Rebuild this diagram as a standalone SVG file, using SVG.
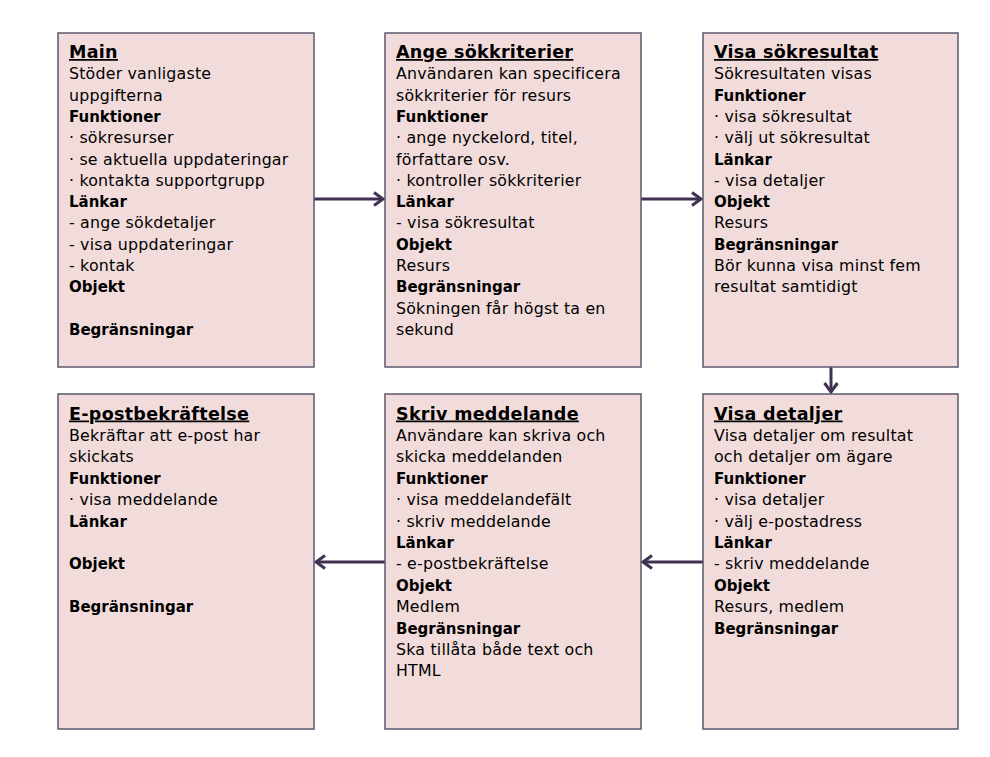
<svg xmlns="http://www.w3.org/2000/svg" width="990" height="757" viewBox="0 0 990 757">
<style>
.box{fill:#f2dcdb;stroke:#5e566f;stroke-width:1.5}
text{font-family:"DejaVu Sans","Noto Sans",sans-serif;font-size:15.8px;letter-spacing:0.2px;fill:#000}
.t{font-size:17.5px;letter-spacing:0.3px;font-weight:bold;text-decoration:underline}
.h{font-weight:bold;font-size:15px;letter-spacing:0}
.c{fill:none;stroke:#403152;stroke-width:3}
</style>
<defs>
<marker id="ah" markerUnits="userSpaceOnUse" markerWidth="16" markerHeight="16" viewBox="-12 -8 16 16" refX="0" refY="0" orient="auto">
<path d="M-9,-6.5 L0,0 L-9,6.5" fill="none" stroke="#403152" stroke-width="3"/>
</marker>
</defs>
<rect width="990" height="757" fill="#fff"/>
<g id="connectors">
<line class="c" x1="314" y1="199" x2="383" y2="199" marker-end="url(#ah)"/>
<line class="c" x1="641" y1="199" x2="701" y2="199" marker-end="url(#ah)"/>
<line class="c" x1="831" y1="367" x2="831" y2="392" marker-end="url(#ah)"/>
<line class="c" x1="703" y1="562" x2="643" y2="562" marker-end="url(#ah)"/>
<line class="c" x1="385" y1="562" x2="316" y2="562" marker-end="url(#ah)"/>
</g>
<g id="main">
<rect class="box" x="58" y="33" width="256" height="334"/>
<text x="69" y="58" class="t">Main</text>
<text x="69" y="79.3">Stöder vanligaste</text>
<text x="69" y="100.6">uppgifterna</text>
<text x="69" y="121.9" class="h">Funktioner</text>
<text x="69" y="143.2">· sökresurser</text>
<text x="69" y="164.5">· se aktuella uppdateringar</text>
<text x="69" y="185.8">· kontakta supportgrupp</text>
<text x="69" y="207.1" class="h">Länkar</text>
<text x="69" y="228.4">- ange sökdetaljer</text>
<text x="69" y="249.7">- visa uppdateringar</text>
<text x="69" y="271">- kontak</text>
<text x="69" y="292.3" class="h">Objekt</text>
<text x="69" y="334.9" class="h">Begränsningar</text>
</g>
<g id="ange-sokkriterier">
<rect class="box" x="385" y="33" width="256" height="334"/>
<text x="396" y="58" class="t">Ange sökkriterier</text>
<text x="396" y="79.3">Användaren kan specificera</text>
<text x="396" y="100.6">sökkriterier för resurs</text>
<text x="396" y="121.9" class="h">Funktioner</text>
<text x="396" y="143.2">· ange nyckelord, titel,</text>
<text x="396" y="164.5">författare osv.</text>
<text x="396" y="185.8">· kontroller sökkriterier</text>
<text x="396" y="207.1" class="h">Länkar</text>
<text x="396" y="228.4">- visa sökresultat</text>
<text x="396" y="249.7" class="h">Objekt</text>
<text x="396" y="271">Resurs</text>
<text x="396" y="292.3" class="h">Begränsningar</text>
<text x="396" y="313.6">Sökningen får högst ta en</text>
<text x="396" y="334.9">sekund</text>
</g>
<g id="visa-sokresultat">
<rect class="box" x="703" y="33" width="255" height="334"/>
<text x="714" y="58" class="t">Visa sökresultat</text>
<text x="714" y="79.3">Sökresultaten visas</text>
<text x="714" y="100.6" class="h">Funktioner</text>
<text x="714" y="121.9">· visa sökresultat</text>
<text x="714" y="143.2">· välj ut sökresultat</text>
<text x="714" y="164.5" class="h">Länkar</text>
<text x="714" y="185.8">- visa detaljer</text>
<text x="714" y="207.1" class="h">Objekt</text>
<text x="714" y="228.4">Resurs</text>
<text x="714" y="249.7" class="h">Begränsningar</text>
<text x="714" y="271">Bör kunna visa minst fem</text>
<text x="714" y="292.3">resultat samtidigt</text>
</g>
<g id="e-postbekraftelse">
<rect class="box" x="58" y="394" width="256" height="335"/>
<text x="69" y="419.5" class="t">E-postbekräftelse</text>
<text x="69" y="441">Bekräftar att e-post har</text>
<text x="69" y="462.4">skickats</text>
<text x="69" y="483.8" class="h">Funktioner</text>
<text x="69" y="505.2">· visa meddelande</text>
<text x="69" y="526.6" class="h">Länkar</text>
<text x="69" y="569.4" class="h">Objekt</text>
<text x="69" y="612.2" class="h">Begränsningar</text>
</g>
<g id="skriv-meddelande">
<rect class="box" x="385" y="394" width="256" height="335"/>
<text x="396" y="419.5" class="t">Skriv meddelande</text>
<text x="396" y="441">Användare kan skriva och</text>
<text x="396" y="462.4">skicka meddelanden</text>
<text x="396" y="483.8" class="h">Funktioner</text>
<text x="396" y="505.2">· visa meddelandefält</text>
<text x="396" y="526.6">· skriv meddelande</text>
<text x="396" y="548" class="h">Länkar</text>
<text x="396" y="569.4">- e-postbekräftelse</text>
<text x="396" y="590.8" class="h">Objekt</text>
<text x="396" y="612.2">Medlem</text>
<text x="396" y="633.6" class="h">Begränsningar</text>
<text x="396" y="655">Ska tillåta både text och</text>
<text x="396" y="676.4">HTML</text>
</g>
<g id="visa-detaljer">
<rect class="box" x="703" y="394" width="255" height="335"/>
<text x="714" y="419.5" class="t">Visa detaljer</text>
<text x="714" y="441">Visa detaljer om resultat</text>
<text x="714" y="462.4">och detaljer om ägare</text>
<text x="714" y="483.8" class="h">Funktioner</text>
<text x="714" y="505.2">· visa detaljer</text>
<text x="714" y="526.6">· välj e-postadress</text>
<text x="714" y="548" class="h">Länkar</text>
<text x="714" y="569.4">- skriv meddelande</text>
<text x="714" y="590.8" class="h">Objekt</text>
<text x="714" y="612.2">Resurs, medlem</text>
<text x="714" y="633.6" class="h">Begränsningar</text>
</g>
</svg>
